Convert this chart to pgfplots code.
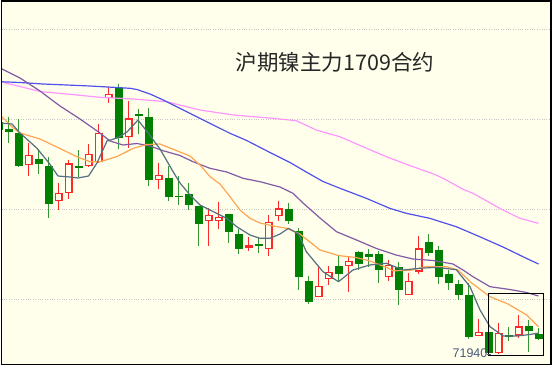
\documentclass[border=0pt]{standalone}
\usepackage{pgfplots}
\usepackage{pgfplotstable}
\pgfplotsset{compat=1.18}
\usepackage{fontspec}
\setmainfont{Liberation Sans}
\newfontfamily\cjk{Noto Sans CJK SC}
\definecolor{bg}{RGB}{255,255,236}
\definecolor{cgreen}{RGB}{0,128,0}
\definecolor{wgreen}{RGB}{50,150,50}
\definecolor{cred}{RGB}{255,40,40}
\definecolor{maA}{RGB}{85,110,130}
\definecolor{maB}{RGB}{255,165,80}
\definecolor{maC}{RGB}{130,90,165}
\definecolor{maD}{RGB}{80,80,235}
\definecolor{maE}{RGB}{255,150,255}
\definecolor{lbl}{RGB}{74,90,120}

\pgfplotstableread{
x h l t b
-1.5 118 136 122 130
8.5 117 143 129 132
18.5 119 167 133 166
38.5 149 174 159 164
48.5 157 217.5 166 204
78.5 150 176.7 166 167.5
118.5 83.5 149 88 138.3
138.5 108.5 134 113.5 115.5
148.5 108.3 186 117.3 180
168.5 166 200.7 178.3 197.3
178.5 176 205.3 195.7 197.3
188.5 183.3 210 194.3 205
198.5 206 245.7 206 224
228.5 214.3 243.3 214.3 231.5
238.5 228.5 254 234.3 249.3
258.5 236.5 253 244.3 246.3
288.5 203 224.3 209.3 220.7
298.5 228.3 290 230.7 276.7
308.5 276 303.5 280.7 302
338.5 254.5 281.7 266 274
358.5 250.8 269.5 252 263.5
368.5 248.8 267.3 254.2 257.3
378.5 250.5 283.3 254.2 270
398.5 261.5 304.5 267.3 290
428.5 234 255.5 242.3 252.5
438.5 245.5 284.2 250 276.7
448.5 270 290 274.3 283
458.5 280 299.7 284.3 295.3
468.5 282.5 338.5 295 336.5
488.5 326.7 353.5 331.7 352.5
508.5 326.7 340.7 335 337
528.5 320 352 326 330.7
538.5 328.3 340.3 334 339.3
}\greentab

\pgfplotstableread{
x h l t b
28.5 143 176 155 165
58.5 183 210 193 200.7
68.5 160 199 163.3 193.3
88.5 144 167.3 154 166
98.5 124 163.3 132.7 162
108.5 87 103.3 94 98
128.5 101 147.5 118.3 137.3
158.5 162.7 189.3 174.7 180
208.5 207.5 245.5 214.5 221.3
218.5 201.7 229 217.2 221.2
248.5 236.7 251 245.2 247.6
268.5 214.5 255.5 221.7 249.2
278.5 200.7 220.7 208.3 216.3
318.5 265.5 297.3 285.7 297.3
328.5 266 284.7 271.7 279.3
348.5 256.7 291.7 260.7 266
388.5 259.7 280.7 265.2 277.3
408.5 273 295 280.7 294.7
418.5 236 273.5 248.3 271.5
478.5 319.3 336 331.7 336
498.5 322.7 354 332.5 352.7
518.5 315 338 326.3 335.5
}\redtab

\pgfplotstableread{
x y
0 123
12 124
20 133
36.7 148
49 163
58 176
70 177
78 178
88.5 176
97 163
107 141
117 138
127 132
138 120
148.5 133.5
160 149
173.3 172
180 183
190 195
200 205
213.3 211.7
226.7 218.3
236.7 226.7
250 235
260 238.3
270 238.3
280 234
288.5 228.3
298.5 234
306.3 251.7
323 271.7
338.5 281.7
353 270
369.7 265
386.3 263.3
403 270
419.7 268.3
436.3 267.3
456.3 269.7
470 286.7
480 310
490 326.7
503.3 336
516.7 336
530 334.5
538.5 333
}\maAtab

\pgfplotstableread{
x y
0 115
13.3 128
20 133
40 139
60 148.5
76.7 156.7
90 161.7
100 161.7
116.7 156.7
133.3 148.3
146.7 144.5
160 144
176.7 150.7
190 156
200 165
210 176.7
220 184
230 196.7
240 210
250 218.3
260 223
273.3 226
286.7 228.3
300 234
320 250
338 255.5
356 257.5
370 261
386.7 267.5
393 270.7
409.7 270.5
426.7 266.5
446.7 266.7
458 270
471.7 283
490 296.7
508 304
526.7 315
538.5 326.7
}\maBtab

\pgfplotstableread{
x y
0 68
20 78
40 91
60 106
80 119
100 133
110 141
123 145
137 143.5
150 146
163 150.7
180 155.5
193 161.7
210 168.3
226.7 172
243 178.3
260 181.7
280 187
293 193.3
303 203
320 218
336.5 231.7
356.5 240
376 248.3
396 255
413 259
433 260.5
453 264
463 270
473 276.7
490 286.7
510 289.5
526.5 292.5
538.5 296
}\maCtab

\pgfplotstableread{
x y
0 81.7
20 82.5
43 84
66.7 85
90 86
113 87.3
130 88.3
137 89.5
150 94
163.3 100
173.3 105
196.7 116.7
213.3 125
230 133.3
246.7 140.5
270 152.5
290 162.5
306.3 172
323 181.5
340 188.3
366.3 198.3
389.7 208.3
406.3 213.3
429.7 218.3
456.3 226.7
479.7 236.7
503 247
526.3 258.3
538.5 264
}\maDtab

\pgfplotstableread{
x y
0 81.7
20 86.5
40 91.5
66.7 94
100 97.3
133.3 99
166.7 101.7
200 110
233.3 115
273 118.3
296.3 120.7
316.3 130
339.7 136.7
363 146.7
386.3 156.7
413 166.7
436.3 175
446.3 180
463 189.3
473 193.3
499.7 208.3
519.7 218.3
538.5 223.3
}\maEtab

\begin{document}
\begin{tikzpicture}[x=1pt,y=1pt]
\fill[white] (0,0) rectangle (553,367);
\begin{axis}[
  at={(1.5pt,2.5pt)}, anchor=south west, scale only axis,
  width=549.5pt, height=363.5pt,
  xmin=1.5, xmax=551, ymin=1, ymax=364.5, y dir=reverse,
  axis background/.style={fill=bg},
  axis line style={draw=none},
  xtick=\empty, ytick={29,119,209,299}, yticklabels={},
  major tick length=0pt,
  ymajorgrids, grid style={gray!45, line width=0.7pt, dash pattern=on 0.8pt off 1.6pt},
  clip=true]
% wicks
\addplot[draw=wgreen, line width=1.2pt, quiver={u=0, v=\thisrow{l}-\thisrow{h}}] table[x=x, y=h] {\greentab};
\addplot[draw=cred, line width=1.2pt, quiver={u=0, v=\thisrow{l}-\thisrow{h}}] table[x=x, y=h] {\redtab};
% bodies
\addplot[draw=cgreen, line width=8pt, quiver={u=0, v=\thisrow{b}-\thisrow{t}}] table[x=x, y=t] {\greentab};
\addplot[draw=cred, line width=8pt, quiver={u=0, v=\thisrow{b}-\thisrow{t}}] table[x=x, y=t] {\redtab};
\addplot[draw=bg, line width=5.6pt, quiver={u=0, v=\thisrow{b}-\thisrow{t}-2.4}] table[x=x, y expr=\thisrow{t}+1.2] {\redtab};
% moving averages
\addplot[maE, line width=1.2pt, line join=round] table[x=x, y=y] {\maEtab};
\addplot[maD, line width=1.2pt, line join=round] table[x=x, y=y] {\maDtab};
\addplot[maC, line width=1.2pt, line join=round] table[x=x, y=y] {\maCtab};
\addplot[maB, line width=1.2pt, line join=round] table[x=x, y=y] {\maBtab};
\addplot[maA, line width=1.2pt, line join=round] table[x=x, y=y] {\maAtab};
\draw[black, line width=1.1pt] (axis cs:488.3,293.5) rectangle (axis cs:543.3,355.5);
\draw[lbl, line width=0.8pt] (axis cs:486.5,354.5) -- (axis cs:491,354.5);
\node[text=lbl, font=\fontsize{12.5}{13}\selectfont, inner sep=0pt] at (axis cs:470,353.5) {71940};
\node[text=black!85, font=\cjk\fontsize{21.5}{21.5}\selectfont, inner sep=0pt] at (axis cs:335,62.5) {沪期镍主力1709合约};
\end{axis}
\draw[black, line width=1.4pt] (1.5,2.5) rectangle (551,366);
\pgfresetboundingbox
\useasboundingbox (0,0) rectangle (553,367);
\end{tikzpicture}
\end{document}
